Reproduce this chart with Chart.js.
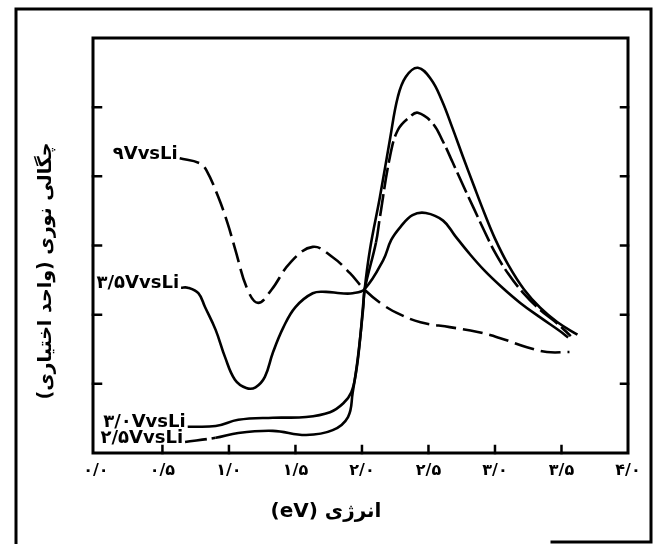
<!DOCTYPE html>
<html><head><meta charset="utf-8">
<script src="https://cdn.jsdelivr.net/npm/chart.js@4.4.0/dist/chart.umd.min.js"></script>
<style>html,body{margin:0;padding:0;background:#fff}#wrap{width:665px;height:544px;position:relative}</style>
</head><body><div id="wrap"><canvas id="c"></canvas></div>
<script>
// ---- data ----
const xTickValues = [0, 0.5, 1, 1.5, 2, 2.5, 3, 3.5, 4];
const xTickLabels = ['۰/۰', '۰/۵', '۱/۰', '۱/۵', '۲/۰', '۲/۵', '۳/۰', '۳/۵', '۴/۰'];
const yTickValues = [1, 2, 3, 4, 5];
const seriesLabels = ['۹VvsLi', '۳/۵VvsLi', '۳/۰VvsLi', '۲/۵VvsLi'];

const x9V = [0.63, 0.78, 0.83, 0.92, 0.99, 1.045, 1.14, 1.22, 1.32, 1.46, 1.63, 1.78, 1.91, 2.02, 2.16, 2.29, 2.44, 2.66, 2.87, 3.04, 3.24, 3.39, 3.56];
const y9V = [4.26, 4.19, 4.09, 3.70, 3.32, 2.96, 2.36, 2.17, 2.36, 2.75, 2.98, 2.83, 2.60, 2.36, 2.14, 2.00, 1.89, 1.82, 1.75, 1.66, 1.53, 1.46, 1.46];

const x35V = [0.64, 0.69, 0.77, 0.82, 0.90, 0.97, 1.045, 1.13, 1.20, 1.27, 1.33, 1.41, 1.50, 1.63, 1.73, 1.84, 1.93, 2.02, 2.16, 2.22, 2.29, 2.38, 2.48, 2.61, 2.70, 2.80, 2.92, 3.05, 3.19, 3.34, 3.49, 3.55];
const y35V = [2.39, 2.39, 2.31, 2.11, 1.78, 1.39, 1.06, 0.94, 0.95, 1.10, 1.45, 1.82, 2.11, 2.31, 2.33, 2.31, 2.31, 2.37, 2.79, 3.08, 3.27, 3.44, 3.47, 3.36, 3.14, 2.90, 2.64, 2.40, 2.17, 1.96, 1.76, 1.67];

const x30V = [0.69, 0.90, 1.07, 1.33, 1.58, 1.76, 1.86, 1.92, 1.955, 1.985, 2.02, 2.06, 2.135, 2.21, 2.27, 2.33, 2.42, 2.52, 2.60, 2.68, 2.76, 2.84, 2.92, 3.00, 3.10, 3.22, 3.34, 3.47, 3.62];
const y30V = [0.38, 0.39, 0.48, 0.51, 0.52, 0.59, 0.72, 0.88, 1.16, 1.63, 2.36, 2.94, 3.70, 4.53, 5.15, 5.44, 5.57, 5.40, 5.10, 4.70, 4.28, 3.87, 3.47, 3.10, 2.72, 2.36, 2.10, 1.89, 1.71];

const x25V = [0.67, 0.90, 1.07, 1.33, 1.58, 1.78, 1.895, 1.93, 1.97, 2.01, 2.02, 2.105, 2.135, 2.21, 2.27, 2.36, 2.42, 2.53, 2.61, 2.68, 2.76, 2.84, 2.92, 3.00, 3.10, 3.21, 3.34, 3.47, 3.57];
const y25V = [0.16, 0.22, 0.29, 0.32, 0.26, 0.33, 0.52, 0.87, 1.39, 2.11, 2.36, 3.04, 3.41, 4.28, 4.67, 4.86, 4.92, 4.77, 4.50, 4.21, 3.87, 3.54, 3.21, 2.90, 2.59, 2.32, 2.07, 1.87, 1.69];

const xTitle = '(eV) انرژی';
const yTitle = 'چگالی نوری (واحد اختیاری)\u200F';

// ---- build ----
const zip = (xs, ys) => xs.map((x, i) => ({x: x, y: ys[i]}));
const FONT = '"DejaVu Sans", sans-serif';

const base = {borderColor: '#000', borderWidth: 2.6, pointRadius: 0, fill: false, tension: 0.4, borderJoinStyle: 'round'};
const datasets = [
  Object.assign({}, base, {label: seriesLabels[0], data: zip(x9V, y9V), borderDash: [20, 7]}),
  Object.assign({}, base, {label: seriesLabels[1], data: zip(x35V, y35V)}),
  Object.assign({}, base, {label: seriesLabels[2], data: zip(x30V, y30V)}),
  Object.assign({}, base, {label: seriesLabels[3], data: zip(x25V, y25V),
    segment: {borderDash: c => (c.p0.parsed.x > 2.07 || c.p1.parsed.x < 0.95) ? [22, 5] : undefined}})
];

const decor = {
  id: 'decor',
  beforeDraw(chart) {
    const ctx = chart.ctx;
    ctx.save(); ctx.fillStyle = '#fff'; ctx.fillRect(0, 0, chart.width, chart.height); ctx.restore();
  },
  afterDraw(chart) {
    const ctx = chart.ctx, a = chart.chartArea, xs = chart.scales.x, ys = chart.scales.y;
    ctx.save();
    ctx.strokeStyle = '#000'; ctx.lineCap = 'square';
    // outer frame
    ctx.lineWidth = 3;
    ctx.beginPath();
    ctx.moveTo(16, 544); ctx.lineTo(16, 9); ctx.lineTo(651, 9); ctx.lineTo(651, 542); ctx.lineTo(552, 542);
    ctx.stroke();
    // plot frame
    ctx.lineWidth = 3;
    ctx.strokeRect(a.left, a.top, a.right - a.left, a.bottom - a.top);
    // inward ticks
    ctx.lineWidth = 2.5;
    ctx.beginPath();
    yTickValues.forEach(v => {
      const py = ys.getPixelForValue(v);
      ctx.moveTo(a.left, py); ctx.lineTo(a.left + 8, py);
      ctx.moveTo(a.right, py); ctx.lineTo(a.right - 7, py);
    });
    xTickValues.forEach(v => {
      if (v <= 0 || v >= 4) return;
      const px = xs.getPixelForValue(v);
      ctx.moveTo(px, a.bottom); ctx.lineTo(px, a.bottom - 7);
    });
    ctx.stroke();
    // series labels
    ctx.fillStyle = '#000';
    ctx.font = 'bold 18px ' + FONT;
    ctx.textAlign = 'right'; ctx.textBaseline = 'middle';
    chart.data.datasets.forEach((ds, i) => {
      const p = ds.data[0];
      const px = xs.getPixelForValue(p.x), py = ys.getPixelForValue(p.y);
      ctx.fillText(ds.label, px - 2, py - 4);
    });
    // axis titles
    ctx.font = 'bold 20px ' + FONT;
    ctx.textAlign = 'center';
    ctx.fillText(xTitle, 326, 512);
    ctx.font = 'bold 19px ' + FONT;
    ctx.translate(46, 271);
    ctx.rotate(-Math.PI / 2);
    ctx.fillText(yTitle, 0, 0);
    ctx.restore();
  }
};

new Chart(document.getElementById('c'), {
  type: 'line',
  data: {datasets: datasets},
  options: {
    responsive: true, maintainAspectRatio: false, animation: false,
    layout: {padding: {left: 93, top: 38, right: 37, bottom: 61}},
    plugins: {legend: {display: false}, tooltip: {enabled: false}, title: {display: false}},
    scales: {
      x: {
        type: 'linear', min: -0.022, max: 4.0,
        afterBuildTicks: s => { s.ticks = xTickValues.map(v => ({value: v})); },
        afterFit: s => { s.height = 30; },
        grid: {display: false, drawTicks: false},
        border: {display: false},
        ticks: {
          autoSkip: false, maxRotation: 0, padding: 8, color: '#000',
          font: {family: FONT, size: 16, weight: 'bold'},
          callback: v => xTickLabels[xTickValues.indexOf(v)]
        }
      },
      y: {
        type: 'linear', min: 0, max: 6,
        afterFit: s => { s.width = 0; },
        grid: {display: false, drawTicks: false},
        border: {display: false},
        ticks: {display: false}
      }
    }
  },
  plugins: [decor]
});
</script>
</body></html>
